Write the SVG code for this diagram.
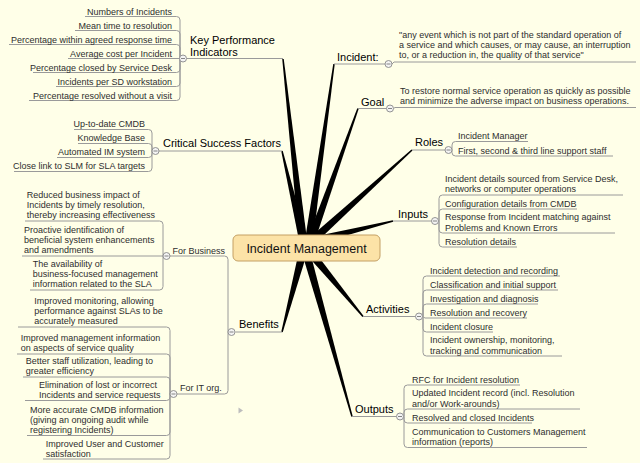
<svg xmlns="http://www.w3.org/2000/svg" width="640" height="463" viewBox="0 0 640 463">
<style>
text{font-family:"Liberation Sans",Arial,sans-serif}
.c{font-size:9px;fill:#2e2e2e}
.r{text-anchor:end}
.m{font-size:11px;fill:#000}
.u{fill:none;stroke:#9a9a9a;stroke-width:1}
.k{fill:#f4f4f4;stroke:#888;stroke-width:0.9}
.kl{stroke:#777;stroke-width:0.9}
.w{fill:#000}
</style>
<defs>
<g id="col"><circle class="k" r="3.5"/><line class="kl" x1="-2" y1="0" x2="2" y2="0"/></g>
</defs>
<rect width="640" height="463" fill="#FFFFE8"/>

<g id="connectors">
<polygon class="w" points="282.25,59.08 299.02,240.44 306.98,239.56 283.75,58.92"/>
<polygon class="w" points="281.27,151.17 299.11,240.92 306.89,239.08 282.73,150.83"/>
<polygon class="w" points="333.26,63.89 305.04,239.44 312.96,240.56 334.74,64.11"/>
<polygon class="w" points="357.29,108.25 307.23,238.65 314.77,241.35 358.71,108.75"/>
<polygon class="w" points="411.5,149.45 310.31,237.04 315.69,242.96 412.5,150.55"/>
<polygon class="w" points="392.82,220.27 312.03,237.12 313.97,244.88 393.18,221.73"/>
<polygon class="w" points="282.73,332.19 305.87,257.02 298.13,254.98 281.27,331.81"/>
<polygon class="w" points="352.72,416.3 310.85,254.92 303.15,257.08 351.28,416.7"/>
<polygon class="w" points="363.58,316.02 316.08,253.45 309.92,258.55 362.42,316.98"/>

<!-- main topic underlines -->
<path class="u" d="M186.5,58.5H283"/>
<path class="u" d="M159,151H282"/>
<path class="u" d="M334,64H385"/>
<path class="u" d="M358,108.5H386.5"/>
<path class="u" d="M412,150H445"/>
<path class="u" d="M393,221H431.5"/>
<path class="u" d="M363,316.5H415.5"/>
<path class="u" d="M352,416.5H396.5"/>
<path class="u" d="M235.5,332H282"/>

<!-- KPI children -->
<path class="u" d="M180,58.5V20Q180,16.5 176.5,16.5H85"/>
<path class="u" d="M180,58.5V34Q180,30.5 176.5,30.5H75"/>
<path class="u" d="M180,58.5V48Q180,44.5 176.5,44.5H9"/>
<path class="u" d="M180,58.5H68"/>
<path class="u" d="M180,58.5V69Q180,72.5 176.5,72.5H33"/>
<path class="u" d="M180,58.5V83Q180,86.5 176.5,86.5H56"/>
<path class="u" d="M180,58.5V97Q180,100.5 176.5,100.5H29"/>

<!-- CSF children -->
<path class="u" d="M152,151V133Q152,129.5 148.5,129.5H74"/>
<path class="u" d="M152,151V147Q152,143.5 148.5,143.5H78"/>
<path class="u" d="M152,151V154Q152,157.5 148.5,157.5H57"/>
<path class="u" d="M152,151V168Q152,171.5 148.5,171.5H14"/>

<!-- Incident / Goal -->
<path class="u" d="M392,64L394,62H636"/>
<path class="u" d="M393.5,108.5L395,107.5H636"/>

<!-- Roles -->
<path class="u" d="M452,150V145Q452,141.5 455.5,141.5H528"/>
<path class="u" d="M452,150V152.5Q452,156 455.5,156H613"/>

<!-- Inputs -->
<path class="u" d="M439,221V198.5Q439,195 442.5,195H623"/>
<path class="u" d="M439,221V212.5Q439,209 442.5,209H577"/>
<path class="u" d="M439,221V229.5Q439,233 442.5,233H615"/>
<path class="u" d="M439,221V243.5Q439,247 442.5,247H517"/>

<!-- Activities -->
<path class="u" d="M423,316.5V279.5Q423,276 426.5,276H560"/>
<path class="u" d="M423,316.5V293.5Q423,290 426.5,290H558"/>
<path class="u" d="M423,316.5V307.5Q423,304 426.5,304H538"/>
<path class="u" d="M422.5,316.5L425,318H527"/>
<path class="u" d="M423,316.5V328.5Q423,332 426.5,332H493"/>
<path class="u" d="M423,316.5V352.5Q423,356 426.5,356H562"/>

<!-- Outputs -->
<path class="u" d="M404,416.5V388.5Q404,385 407.5,385H520"/>
<path class="u" d="M404,416.5V412.5Q404,409 407.5,409H580"/>
<path class="u" d="M404,416.5V419.5Q404,423 407.5,423H532"/>
<path class="u" d="M404,416.5V444Q404,447.5 407.5,447.5H587"/>

<!-- Benefits spine -->
<path class="u" d="M170,256H224.5Q228,256 228,259.5V390.5Q228,394 224.5,394H177"/>

<!-- For Business children -->
<path class="u" d="M163,256V224.5Q163,221 159.5,221H25"/>
<path class="u" d="M163,256H22"/>
<path class="u" d="M163,256V286.5Q163,290 159.5,290H30"/>

<!-- For IT org children -->
<path class="u" d="M170,394V330.5Q170,327 166.5,327H18"/>
<path class="u" d="M170,394V357.5Q170,354 166.5,354H17"/>
<path class="u" d="M170,394V380.5Q170,377 166.5,377H23"/>
<path class="u" d="M170,394V397Q170,400.5 166.5,400.5H25"/>
<path class="u" d="M170,394V432Q170,435.5 166.5,435.5H27"/>
<path class="u" d="M170,394V455.5Q170,459 166.5,459H43"/>
</g>

<g id="center">
<rect x="233" y="235" width="147" height="26" rx="5" fill="#FCE3A7" stroke="#C4A064" stroke-width="1"/>
<text x="306.5" y="253" font-size="12.5" text-anchor="middle" fill="#111">Incident Management</text>
</g>

<g id="kpi">
<text class="m" x="190" y="44">Key Performance</text>
<text class="m" x="190" y="55.5">Indicators</text>
<use href="#col" x="183" y="58.5"/>
<text class="c r" x="172" y="14.5">Numbers of Incidents</text>
<text class="c r" x="172" y="28.5">Mean time to resolution</text>
<text class="c r" x="172" y="42.5">Percentage within agreed response time</text>
<text class="c r" x="172" y="56.5">Average cost per Incident</text>
<text class="c r" x="172" y="70.5">Percentage closed by Service Desk</text>
<text class="c r" x="172" y="84.5">Incidents per SD workstation</text>
<text class="c r" x="172" y="98.5">Percentage resolved without a visit</text>
</g>

<g id="csf">
<text class="m" x="163" y="147">Critical Success Factors</text>
<use href="#col" x="155.5" y="151"/>
<text class="c r" x="145" y="127">Up-to-date CMDB</text>
<text class="c r" x="145" y="141">Knowledge Base</text>
<text class="c r" x="145" y="155">Automated IM system</text>
<text class="c r" x="145" y="169">Close link to SLM for SLA targets</text>
</g>

<g id="incident">
<text class="m" x="337" y="61">Incident:</text>
<use href="#col" x="388.5" y="64"/>
<text class="c" x="399" y="37.5">"any event which is not part of the standard operation of</text>
<text class="c" x="399" y="47.7">a service and which causes, or may cause, an interruption</text>
<text class="c" x="399" y="57.9">to, or a reduction in, the quality of that service"</text>
</g>

<g id="goal">
<text class="m" x="361" y="106">Goal</text>
<use href="#col" x="390" y="108.5"/>
<text class="c" x="400" y="94">To restore normal service operation as quickly as possible</text>
<text class="c" x="400" y="104.2">and minimize the adverse impact on business operations.</text>
</g>

<g id="roles">
<text class="m" x="415" y="146">Roles</text>
<use href="#col" x="448.5" y="150"/>
<text class="c" x="458" y="139">Incident Manager</text>
<text class="c" x="458" y="153.5">First, second &amp; third line support staff</text>
</g>

<g id="inputs">
<text class="m" x="398" y="218">Inputs</text>
<use href="#col" x="435" y="221"/>
<text class="c" x="445" y="182.3">Incident details sourced from Service Desk,</text>
<text class="c" x="445" y="192.4">networks or computer operations</text>
<text class="c" x="445" y="206.5">Configuration details from CMDB</text>
<text class="c" x="445" y="220.4">Response from Incident matching against</text>
<text class="c" x="445" y="230.5">Problems and Known Errors</text>
<text class="c" x="445" y="244.5">Resolution details</text>
</g>

<g id="activities">
<text class="m" x="366" y="313">Activities</text>
<use href="#col" x="419" y="316.5"/>
<text class="c" x="430" y="273.5">Incident detection and recording</text>
<text class="c" x="430" y="287.5">Classification and initial support</text>
<text class="c" x="430" y="301.5">Investigation and diagnosis</text>
<text class="c" x="430" y="315.5">Resolution and recovery</text>
<text class="c" x="430" y="329.5">Incident closure</text>
<text class="c" x="430" y="343.3">Incident ownership, monitoring,</text>
<text class="c" x="430" y="353.5">tracking and communication</text>
</g>

<g id="outputs">
<text class="m" x="355" y="413">Outputs</text>
<use href="#col" x="400" y="416.5"/>
<text class="c" x="412" y="382.5">RFC for Incident resolution</text>
<text class="c" x="412" y="396.4">Updated Incident record (incl. Resolution</text>
<text class="c" x="412" y="406.5">and/or Work-arounds)</text>
<text class="c" x="412" y="420.5">Resolved and closed Incidents</text>
<text class="c" x="412" y="434.8">Communication to Customers Management</text>
<text class="c" x="412" y="445">information (reports)</text>
</g>

<g id="benefits">
<text class="m" x="239" y="328">Benefits</text>
<use href="#col" x="231.5" y="332"/>
</g>

<g id="for-business">
<text class="c" x="172.5" y="254">For Business</text>
<use href="#col" x="166.5" y="256"/>
<text class="c" x="26.7" y="198">Reduced business impact of</text>
<text class="c" x="26.7" y="208">Incidents by timely resolution,</text>
<text class="c" x="26.7" y="218">thereby increasing effectiveness</text>
<text class="c" x="24" y="233">Proactive identification of</text>
<text class="c" x="24" y="243">beneficial system enhancements</text>
<text class="c" x="24" y="253">and amendments</text>
<text class="c" x="32.7" y="267">The availability of</text>
<text class="c" x="32.7" y="277">business-focused management</text>
<text class="c" x="32.7" y="287">information related to the SLA</text>
</g>

<g id="for-it">
<text class="c" x="180" y="391">For IT org.</text>
<use href="#col" x="173.5" y="394"/>
<text class="c" x="34.3" y="304">Improved monitoring, allowing</text>
<text class="c" x="34.3" y="314">performance against SLAs to be</text>
<text class="c" x="34.3" y="324">accurately measured</text>
<text class="c" x="20.7" y="340.5">Improved management information</text>
<text class="c" x="20.7" y="350.5">on aspects of service quality</text>
<text class="c" x="25.7" y="364">Better staff utilization, leading to</text>
<text class="c" x="25.7" y="374">greater efficiency</text>
<text class="c" x="39" y="387.5">Elimination of lost or incorrect</text>
<text class="c" x="39" y="397.5">Incidents and service requests</text>
<text class="c" x="30" y="412.5">More accurate CMDB information</text>
<text class="c" x="30" y="422.5">(giving an ongoing audit while</text>
<text class="c" x="30" y="432.5">registering Incidents)</text>
<text class="c" x="45.7" y="447">Improved User and Customer</text>
<text class="c" x="45.7" y="457">satisfaction</text>
</g>

<polygon points="238.5,407.5 243,410.5 238.5,413.5" fill="#bdbdbd"/>
</svg>
